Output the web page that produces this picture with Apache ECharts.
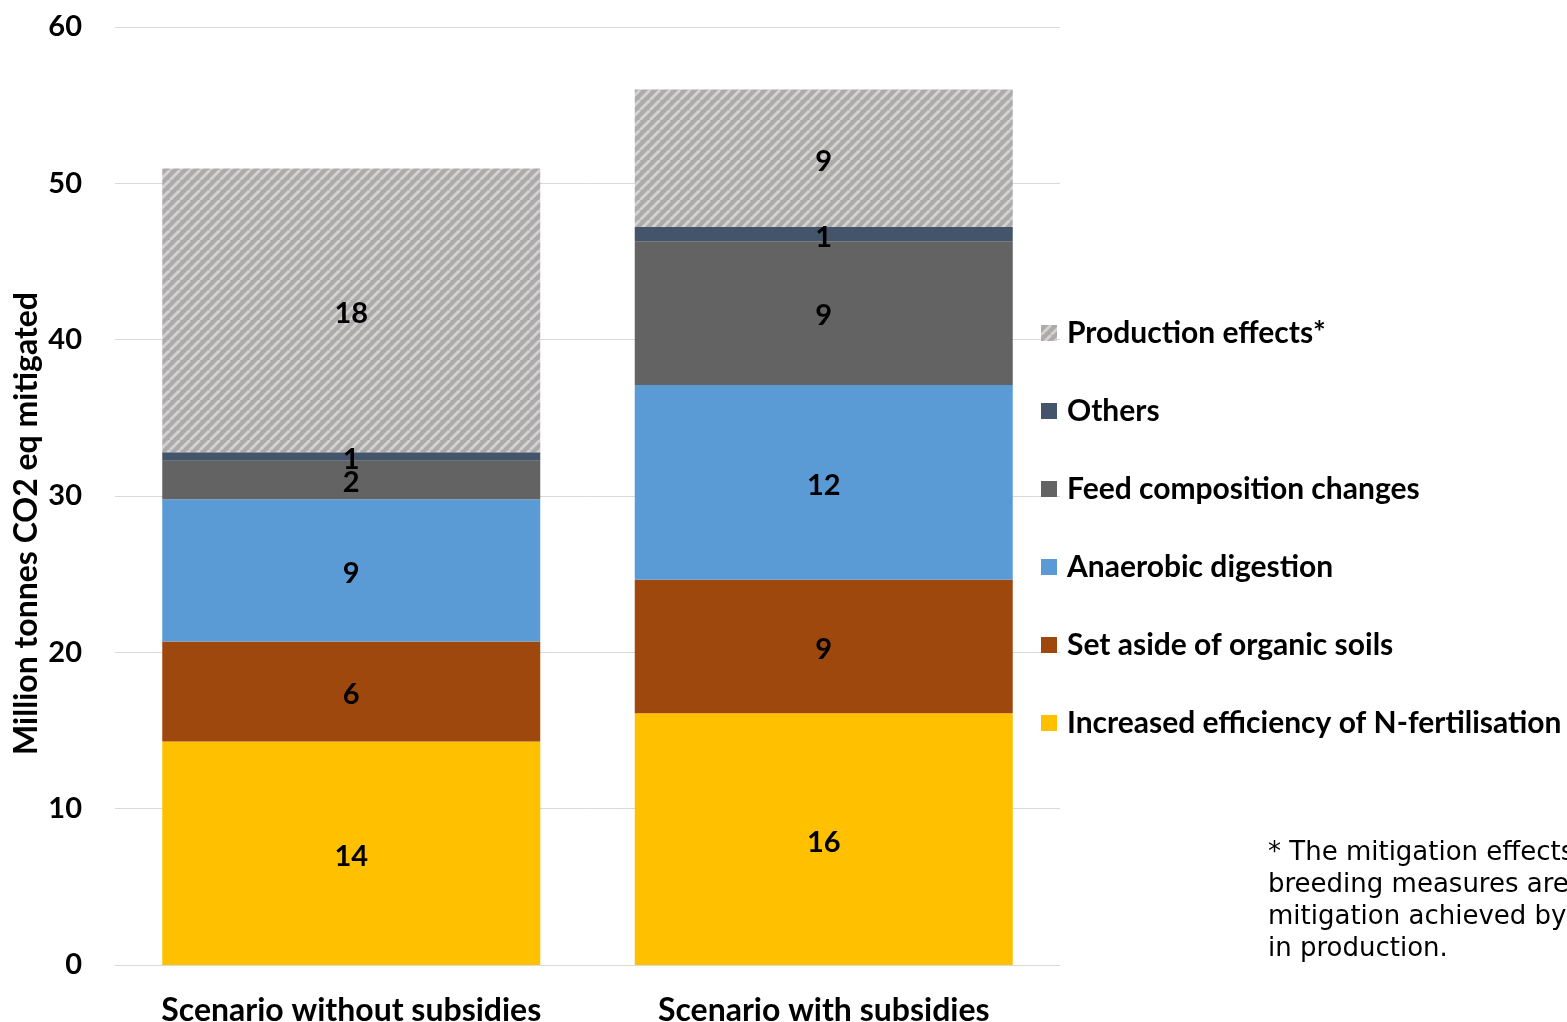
<!DOCTYPE html>
<html>
<head>
<meta charset="utf-8">
<script src="https://cdn.jsdelivr.net/npm/echarts@6/dist/echarts.min.js"></script>
<style>
  html, body { margin: 0; padding: 0; background: #fff; overflow: hidden; }
  #chart { width: 1567px; height: 1022px; }
</style>
</head>
<body>
<div id="chart"></div>
<script>
// Mitigation by measure, million tonnes CO2 eq
const categories = ['Scenario without subsidies', 'Scenario with subsidies'];
const nFertilisation = [14.3, 16.1];
const organicSoils = [6.4, 8.55];
const anaerobicDigestion = [9.1, 12.45];
const feedComposition = [2.45, 9.2];
const others = [0.55, 0.9];
const productionEffects = [18.15, 8.8];
const yTicks = [0, 10, 20, 30, 40, 50, 60];

const seriesNames = [
  'Increased efficiency of N-fertilisation',
  'Set aside of organic soils',
  'Anaerobic digestion',
  'Feed composition changes',
  'Others',
  'Production effects*'
];

// Diagonal hatching used for the production effects segment
function hatchPattern() {
  const size = 10;
  const c = document.createElement('canvas');
  c.width = size; c.height = size;
  const ctx = c.getContext('2d');
  ctx.fillStyle = '#ADAAAA';
  ctx.fillRect(0, 0, size, size);
  ctx.strokeStyle = '#D3D1D1';
  ctx.lineWidth = 2.8;
  for (let k = -1; k <= 1; k++) {
    ctx.beginPath();
    ctx.moveTo(k * size, size);
    ctx.lineTo(k * size + size, 0);
    ctx.stroke();
  }
  return c;
}

const font = 'Lato, "Noto Sans", sans-serif';
const chart = echarts.init(document.getElementById('chart'), null, { renderer: 'canvas' });

function barSeries(name, data, color) {
  return {
    name: name,
    type: 'bar',
    stack: 'total',
    data: data,
    barCategoryGap: '20%',
    itemStyle: { color: color },
    label: {
      show: true,
      position: 'inside',
      offset: [0, 3],
      color: '#000',
      fontFamily: font,
      fontWeight: 'bold',
      fontSize: 29,
      formatter: p => Math.round(p.value)
    },
    emphasis: { disabled: true }
  };
}

chart.setOption({
  animation: false,
  textStyle: { fontFamily: font },
  grid: {
    left: 115, right: 507, top: 27, bottom: 57,
    containLabel: false,
    outerBoundsMode: 'none'
  },
  xAxis: {
    type: 'category',
    data: categories,
    axisTick: { show: false },
    axisLine: { show: true, lineStyle: { color: '#D9D9D9', width: 1 } },
    axisLabel: {
      interval: 0,
      color: '#000',
      fontFamily: font,
      fontWeight: 'bold',
      fontSize: 32,
      margin: 30
    }
  },
  yAxis: {
    type: 'value',
    min: yTicks[0],
    max: yTicks[yTicks.length - 1],
    interval: 10,
    axisLine: { show: false },
    axisTick: { show: false },
    splitLine: { lineStyle: { color: '#D9D9D9', width: 1 } },
    axisLabel: {
      color: '#000',
      fontFamily: font,
      fontWeight: 'bold',
      fontSize: 29,
      margin: 33
    }
  },
  legend: {
    orient: 'vertical',
    left: 1036,
    top: 313,
    icon: 'rect',
    itemWidth: 16,
    itemHeight: 16,
    itemGap: 48,
    data: seriesNames.slice().reverse(),
    selectedMode: false,
    textStyle: {
      color: '#000',
      fontFamily: font,
      fontWeight: 'bold',
      fontSize: 30,
      lineHeight: 30,
      padding: [0, 0, 0, 5]
    }
  },
  graphic: [
    {
      type: 'text',
      left: 11,
      top: 292,
      rotation: Math.PI / 2,
      style: {
        text: 'Million tonnes CO2 eq mitigated',
        fill: '#000',
        font: 'bold 32px ' + font
      }
    },
    {
      type: 'text',
      left: 1268,
      top: 837,
      style: {
        text: '* The mitigation effects of\nbreeding measures are included in\nmitigation achieved by changes\nin production.',
        fill: '#000',
        font: '26px "DejaVu Sans", Verdana, sans-serif',
        lineHeight: 32
      }
    }
  ],
  series: [
    barSeries(seriesNames[0], nFertilisation, '#FFC000'),
    barSeries(seriesNames[1], organicSoils, '#9E480E'),
    barSeries(seriesNames[2], anaerobicDigestion, '#5B9BD5'),
    barSeries(seriesNames[3], feedComposition, '#636363'),
    barSeries(seriesNames[4], others, '#44546A'),
    barSeries(seriesNames[5], productionEffects, { image: hatchPattern(), repeat: 'repeat' })
  ]
});
</script>
</body>
</html>
